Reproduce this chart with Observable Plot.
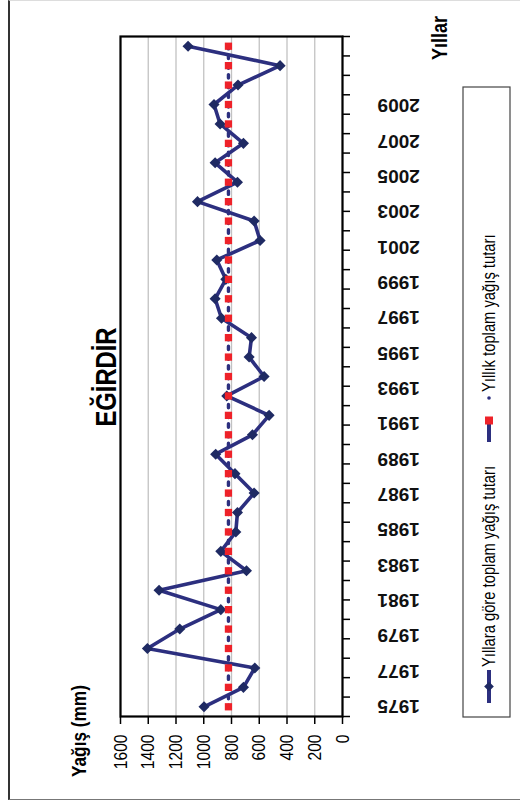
<!DOCTYPE html>
<html>
<head>
<meta charset="utf-8">
<script src="https://cdn.jsdelivr.net/npm/d3@7"></script>
<script src="https://cdn.jsdelivr.net/npm/@observablehq/plot@0.6"></script>
<style>
  html, body { margin: 0; padding: 0; background: #fff; overflow: hidden; width: 520px; height: 808px; }
  /* The chart is laid out landscape and turned a quarter turn counter-clockwise. */
  #chart {
    position: absolute; left: 0; top: 0; width: 808px; height: 520px;
    transform-origin: 0 0; transform: translate(0, 808px) rotate(-90deg);
  }
  #chart > svg { position: absolute; left: 0; top: 0; }
  #frame {
    position: absolute; left: 8px; top: 8px; width: 800px; height: 514px; box-sizing: border-box;
    border-top: 2px solid #333; border-left: 1.5px solid #777; border-right: 1px solid #ddd;
  }
</style>
</head>
<body>
<div id="chart"><div id="frame"></div></div>
<script>
// Eğirdir annual precipitation (mm)
const years = [1975, 1976, 1977, 1978, 1979, 1980, 1981, 1982, 1983, 1984,
               1985, 1986, 1987, 1988, 1989, 1990, 1991, 1992, 1993, 1994,
               1995, 1996, 1997, 1998, 1999, 2000, 2001, 2002, 2003, 2004,
               2005, 2006, 2007, 2008, 2009];
const rainfall = [998, 714, 632, 1406, 1173, 877, 1322, 692, 877, 769,
                  757, 637, 775, 914, 649, 529, 834, 565, 673, 656,
                  872, 918, 841, 906, 594, 637, 1045, 757, 918, 714,
                  882, 926, 753, 450, 1113];
const annualMean = 822;
const valueTicks = [0, 200, 400, 600, 800, 1000, 1200, 1400, 1600];
const yearLabels = [1975, 1977, 1979, 1981, 1983, 1985, 1987, 1989, 1991,
                    1993, 1995, 1997, 1999, 2001, 2003, 2005, 2007, 2009];

const titleText = "EĞİRDİR";
const yTitle = "Yağış (mm)";
const xTitle = "Yıllar";
const seriesName = "Yıllara göre toplam yağış tutarı";
const meanName = "Yıllık toplam yağış tutarı";

const W = 808, H = 520;
const SANS = '"Liberation Sans", Arial, sans-serif';
const NAVY = "#2c2f7f";
const NAVY_DARK = "#1f2a63";
const RED = "#ee2229";

const series = years.map((year, i) => ({year, value: rainfall[i]}));
const meanSeries = years.map(year => ({year, value: annualMean}));
// tick marks sit between the yearly categories
const boundaries = years.map(y => y - 0.5).concat([years[years.length - 1] + 0.5]);

const main = Plot.plot({
  width: W, height: H,
  marginLeft: 91, marginRight: 37, marginTop: 120, marginBottom: 178,
  x: {type: "linear", domain: [years[0] - 0.5, years[years.length - 1] + 0.5]},
  y: {domain: [0, 1600]},
  style: {fontFamily: SANS, fontSize: "19px", color: "#000", background: "transparent", overflow: "visible"},
  marks: [
    Plot.gridY({ticks: valueTicks, stroke: "#c2c2c2", strokeOpacity: 1, strokeWidth: 1.3}),
    Plot.axisY({ticks: valueTicks, tickSize: 7, tickPadding: 11, label: null,
                tickFormat: d => String(d), fontSize: 19, strokeWidth: 1.5, className: "narrow"}),
    Plot.axisX({ticks: boundaries, tickSize: 8, label: null, tickFormat: () => "", strokeWidth: 1.5}),
    Plot.frame({stroke: "#000", strokeWidth: 2.2}),
    Plot.line(series, {x: "year", y: "value", stroke: NAVY, strokeWidth: 3.6}),
    Plot.dot(series, {x: "year", y: "value", symbol: "diamond2", r: 5, fill: NAVY_DARK, stroke: "none"}),
    Plot.line(meanSeries, {x: "year", y: "value", stroke: NAVY, strokeWidth: 3.4,
                           strokeDasharray: "3.4 6.3", strokeDashoffset: 1.7}),
    Plot.dot(meanSeries, {x: "year", y: "value", symbol: "square", r: 4.1, fill: RED, stroke: "none"})
  ]
});

// year labels along the category axis
const labels = Plot.plot({
  width: W, height: H,
  marginLeft: 101.3, marginRight: 106, marginTop: 120, marginBottom: 178,
  x: {type: "linear", domain: [yearLabels[0], yearLabels[yearLabels.length - 1]], axis: null},
  style: {background: "transparent", overflow: "visible"},
  marks: [
    Plot.text(yearLabels, {x: d => d, text: d => String(d), frameAnchor: "bottom", dy: 35,
                           rotate: -90, textAnchor: "end", lineAnchor: "middle",
                           fontSize: 19, fontWeight: "bold", fontFamily: SANS, fill: "#111"})
  ]
});

const host = document.getElementById("chart");
host.appendChild(main);
host.appendChild(labels);

// titles and legend
const svg = d3.select(host).append("svg")
  .attr("width", W).attr("height", H)
  .style("position", "absolute").style("left", 0).style("top", 0);

const addText = (g, x, y, str, size, weight) => g.append("text")
  .attr("class", "narrow").attr("x", x).attr("y", y)
  .attr("font-family", SANS).attr("font-size", size).attr("font-weight", weight || "normal").text(str);

addText(svg, 431, 116, titleText, 29, "bold").attr("text-anchor", "middle");
addText(svg, 31, 86, yTitle, 21, "bold");
addText(svg, 748, 447, xTitle, 22, "bold");

const lg = svg.append("g");
lg.append("rect").attr("x", 91).attr("y", 463).attr("width", 630).attr("height", 47)
  .attr("fill", "#fff").attr("stroke", "#444").attr("stroke-width", 1.2);
lg.append("line").attr("x1", 105).attr("x2", 138).attr("y1", 489).attr("y2", 489)
  .attr("stroke", NAVY).attr("stroke-width", 4);
lg.append("path").attr("d", d3.symbol(d3.symbolDiamond2, 60)()).attr("transform", "translate(121.5,489)")
  .attr("fill", NAVY_DARK);
addText(lg, 141, 495, seriesName, 18);
lg.append("line").attr("x1", 366).attr("x2", 388).attr("y1", 489).attr("y2", 489)
  .attr("stroke", NAVY).attr("stroke-width", 4);
lg.append("rect").attr("x", 383.5).attr("y", 485).attr("width", 8).attr("height", 8).attr("fill", RED);
lg.append("circle").attr("cx", 410).attr("cy", 489).attr("r", 1.8).attr("fill", NAVY);
addText(lg, 416, 495, meanName, 18);

// narrow lettering: squeeze the glyphs of the marked texts horizontally
host.querySelectorAll(".narrow text, text.narrow").forEach(el => {
  el.setAttribute("font-family", SANS);
  const w = el.getComputedTextLength();
  if (w > 0) {
    el.setAttribute("textLength", (w * 0.82).toFixed(1));
    el.setAttribute("lengthAdjust", "spacingAndGlyphs");
  }
});
</script>
</body>
</html>
